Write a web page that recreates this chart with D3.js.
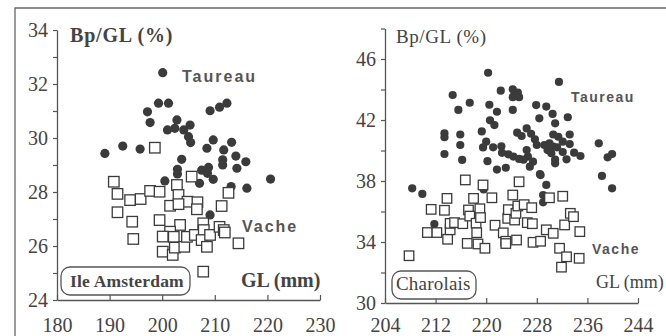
<!DOCTYPE html>
<html>
<head>
<meta charset="utf-8">
<script src="https://cdn.jsdelivr.net/npm/d3@7/dist/d3.min.js"></script>
<style>
  body { margin: 0; background: #fff; }
  svg { display: block; }
</style>
</head>
<body>
<svg id="chart" width="666" height="336"></svg>
<script>
// Ile Amsterdam: [GL (mm), Bp/GL (%)]
const amsterdamTaureau = [
  [200.1,32.42],[189.1,29.43],[192.5,29.70],[195.8,29.59],[197.2,30.97],[197.7,30.57],[199.3,31.29],
  [201.2,31.29],[202.8,30.67],[201.0,30.30],[202.4,30.36],[204.1,30.30],[205.3,30.48],[205.0,30.05],
  [205.4,29.83],[203.7,29.21],[202.9,28.84],[202.9,28.67],[200.5,28.41],[209.1,31.01],[210.9,31.14],
  [212.3,31.29],[209.7,29.93],[208.5,29.62],[213.2,29.84],[211.7,29.56],[214.0,29.33],[215.9,29.12],
  [211.5,29.19],[211.5,29.0],[214.2,28.88],[208.8,28.91],[207.5,28.81],[208.6,28.69],[209.7,28.47],
  [207.1,28.32],[213.1,28.20],[216.1,28.14],[209.1,27.15],[220.6,28.48]
];
const amsterdamVache = [
  [198.6,29.64],[190.8,28.38],[191.5,27.93],[191.5,27.25],[193.9,27.70],[195.9,27.74],[197.7,28.04],
  [199.5,28.01],[194.3,26.90],[194.5,26.26],[199.5,26.96],[200.1,25.79],[202.0,25.67],[201.5,27.49],
  [202.8,28.26],[203.1,27.89],[204.8,27.64],[205.6,28.57],[206.7,27.62],[206.6,27.36],[203.4,26.78],
  [201.5,26.53],[202.2,26.34],[202.4,25.94],[204.2,25.97],[204.7,26.34],[206.2,26.41],[207.8,26.84],
  [207.9,26.59],[207.5,26.22],[208.5,25.97],[209.1,26.41],[210.9,26.71],[211.3,27.48],[211.7,26.59],
  [212.6,27.97],[214.5,26.10],[207.8,25.05],[203.1,27.55],[200.1,26.35],[211.9,26.5]
];

// Charolais
const charolaisTaureau = [
  [208.3,37.52],[209.9,37.15],[211.8,35.18],[213.4,41.13],[213.4,40.87],[213.4,39.77],[214.7,43.64],
  [215.6,42.66],[215.9,41.05],[215.9,40.36],[216.2,39.38],[217.4,43.13],[219.3,41.25],[220.0,40.58],
  [219.5,40.2],[220.2,39.3],[220.3,45.1],[220.5,43.0],[220.6,41.98],[221.3,41.67],[221.7,42.54],
  [222.3,43.92],[222.4,40.28],[221.1,40.21],[221.7,38.75],[223.1,38.87],[224.2,44.01],[224.2,43.5],
  [224.5,43.75],[225.0,43.8],[225.2,43.5],[224.2,42.66],[222.5,39.85],[223.5,39.75],[224.3,39.6],
  [225.2,39.45],[225.9,39.4],[226.6,39.6],[226.4,40.03],[224.9,41.17],[225.6,40.95],[226.4,41.45],
  [227.1,41.1],[227.7,40.73],[228.0,40.36],[227.4,39.27],[226.9,38.94],[227.9,42.98],[228.4,42.11],
  [229.5,42.88],[228.6,38.39],[229.5,37.74],[229.0,37.08],[229.0,36.6],[229.2,40.36],[229.7,40.03],
  [230.0,40.47],[230.5,42.4],[230.9,41.78],[230.6,41.05],[230.6,40.26],[230.3,39.82],[230.9,39.4],
  [230.9,39.16],[231.2,40.21],[231.4,40.9],[232.1,40.58],[232.1,39.9],[231.5,44.5],[232.9,42.18],
  [233.2,41.05],[233.2,40.42],[232.7,39.42],[233.9,39.86],[234.9,39.64],[237.8,40.47],[238.3,38.33],
  [239.2,39.55],[239.9,39.77],[239.9,37.52],[219.6,37.45],[228.5,38.45]
];
const charolaisVache = [
  [207.8,33.1],[211.3,36.14],[210.7,34.62],[212.2,34.62],[213.8,36.86],[213.4,36.08],[213.9,34.18],
  [214.3,34.8],[214.3,35.22],[215.0,35.27],[216.7,38.07],[217.2,36.1],[216.3,35.2],[217.4,35.7],
  [217.0,33.91],[218.0,36.86],[218.4,35.23],[218.5,34.61],[218.7,33.87],[219.0,36.18],[219.1,35.6],
  [219.5,37.74],[219.8,33.59],[220.9,36.9],[221.4,35.1],[222.7,34.6],[223.1,34.05],[223.1,33.9],
  [223.4,35.55],[223.5,36.12],[224.2,37.08],[225.2,37.95],[224.5,35.44],[224.7,35.88],[225.0,36.36],
  [224.8,34.13],[226.0,36.45],[226.5,35.27],[227.2,36.25],[227.3,35.2],[227.4,33.98],[228.6,34.05],
  [229.5,34.8],[230.0,36.9],[230.6,34.57],[231.6,33.59],[232.1,37.0],[232.4,35.12],[232.7,33.03],
  [231.9,32.35],[233.3,35.88],[233.8,35.66],[234.8,34.68],[234.7,32.93]
];

// ticks
const leftXTicks = [180, 190, 200, 210, 220, 230];
const leftYTicks = [24, 25, 26, 27, 28, 29, 30, 31, 32, 33, 34];
const rightXTicks = [204, 212, 220, 228, 236, 244];
const rightYTicks = [30, 32, 34, 36, 38, 40, 42, 44, 46, 48];

const ink = "#3b3b3b";
const textInk = "#444";
const serif = "'Liberation Serif', 'Times New Roman', serif";
const sans = "'Liberation Sans', Arial, sans-serif";

const svg = d3.select("#chart");

// outer frame (left + top edges)
svg.append("path")
  .attr("d", "M15,336V8H666")
  .attr("fill", "none")
  .attr("stroke", "#666")
  .attr("stroke-width", 1.3);

function drawPanel(cfg) {
  const g = svg.append("g");
  const x = d3.scaleLinear().domain(cfg.xDomain).range(cfg.xRange);
  const y = d3.scaleLinear().domain(cfg.yDomain).range(cfg.yRange);

  const yAxis = g.append("g")
    .attr("transform", `translate(${cfg.xRange[0]},0)`)
    .call(d3.axisLeft(y)
      .tickValues(cfg.yTicks)
      .tickSize(4)
      .tickSizeOuter(0)
      .tickPadding(cfg.yPad)
      .tickFormat(d => cfg.yLabel(d) ? d : ""));

  const xAxis = g.append("g")
    .attr("transform", `translate(0,${cfg.yRange[0]})`)
    .call(d3.axisBottom(x)
      .tickValues(cfg.xTicks)
      .tickSizeInner(-5)
      .tickSizeOuter(0)
      .tickPadding(cfg.xPad));

  [xAxis, yAxis].forEach(a => {
    a.select(".domain").attr("stroke", "#555").attr("stroke-width", 1.3);
    a.selectAll(".tick line").attr("stroke", "#555").attr("stroke-width", 1.2);
    a.selectAll(".tick text")
      .attr("fill", textInk)
      .style("font-family", serif)
      .style("font-size", "20px");
  });

  // circles: Taureau
  g.append("g").selectAll("circle")
    .data(cfg.bulls)
    .enter()
    .append("circle")
    .attr("cx", d => x(d[0]))
    .attr("cy", d => y(d[1]))
    .attr("r", cfg.r)
    .attr("fill", ink);

  // squares: Vache
  g.append("g").selectAll("rect")
    .data(cfg.cows)
    .enter()
    .append("rect")
    .attr("x", d => x(d[0]) - cfg.s / 2)
    .attr("y", d => y(d[1]) - cfg.s / 2)
    .attr("width", cfg.s)
    .attr("height", cfg.s)
    .attr("fill", "#fff")
    .attr("stroke", ink)
    .attr("stroke-width", 1.3);

  return g;
}

const left = drawPanel({
  xDomain: [180, 230], xRange: [57, 320],
  yDomain: [24, 34], yRange: [300, 30],
  xTicks: leftXTicks, yTicks: leftYTicks,
  yLabel: d => d % 2 === 0,
  xPad: 18, yPad: 5,
  bulls: amsterdamTaureau, cows: amsterdamVache,
  r: 4.6, s: 10.5
});

const right = drawPanel({
  xDomain: [204, 244], xRange: [385, 638],
  yDomain: [30, 48], yRange: [303, 28.5],
  xTicks: rightXTicks, yTicks: rightYTicks,
  yLabel: d => (d - 30) % 4 === 0,
  xPad: 15, yPad: 5,
  bulls: charolaisTaureau, cows: charolaisVache,
  r: 4.1, s: 9.5
});

// labels
function label(g, txt, x, y, opts) {
  g.append("text")
    .attr("x", x)
    .attr("y", y)
    .attr("fill", opts.fill || textInk)
    .style("font-family", opts.family)
    .style("font-size", opts.size + "px")
    .style("font-weight", opts.weight || "normal")
    .style("letter-spacing", (opts.ls || 0) + "px")
    .text(txt);
}

label(left, "Bp/GL (%)", 70, 42, { family: serif, size: 20, weight: "bold", ls: 0.8 });
label(left, "Taureau", 182, 82, { family: sans, size: 16, weight: "bold", ls: 2, fill: "#555" });
label(left, "Vache", 242, 232, { family: sans, size: 16, weight: "bold", ls: 2, fill: "#555" });
label(left, "GL (mm)", 241, 287, { family: serif, size: 20, weight: "bold" });

label(right, "Bp/GL (%)", 396, 43, { family: serif, size: 19, ls: 0.6 });
label(right, "Taureau", 571, 102, { family: sans, size: 14, weight: "bold", ls: 1.5, fill: "#555" });
label(right, "Vache", 592, 254, { family: sans, size: 14, weight: "bold", ls: 1.5, fill: "#555" });
label(right, "GL (mm)", 596, 288, { family: serif, size: 18 });

// boxed site names
left.append("rect")
  .attr("x", 61).attr("y", 267).attr("width", 129).attr("height", 28)
  .attr("rx", 9)
  .attr("fill", "#fff").attr("stroke", "#555").attr("stroke-width", 1.3);
label(left, "Ile Amsterdam", 70, 287, { family: serif, size: 17.5, weight: "bold", ls: 0.2 });

right.append("rect")
  .attr("x", 392).attr("y", 271).attr("width", 84).attr("height", 28)
  .attr("rx", 9)
  .attr("fill", "#fff").attr("stroke", "#555").attr("stroke-width", 1.3);
label(right, "Charolais", 396, 290, { family: serif, size: 19, ls: 0.2 });
</script>
</body>
</html>
